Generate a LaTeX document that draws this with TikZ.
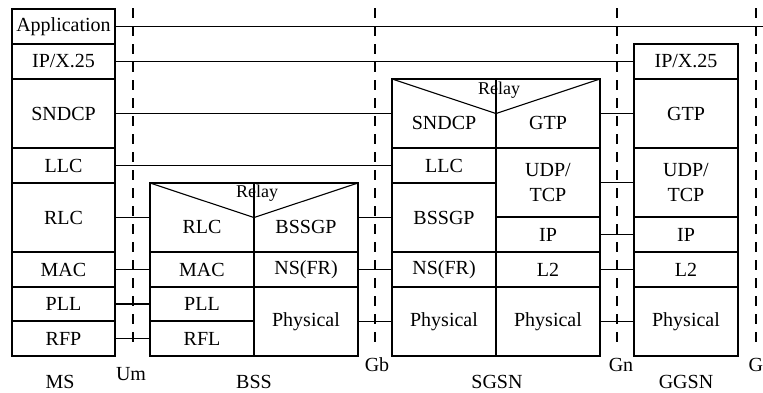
\documentclass[tikz,border=0pt]{standalone}
\usepackage{fontspec}
\setmainfont{Liberation Serif}
\tikzset{
  onerow/.style={minimum height=35pt},
  tworow/.style={minimum height=69pt},
  relaycell/.style={tworow,text height=33pt},
  relaytext/.style={font=\fontsize{18}{20}\selectfont,inner sep=0pt},
  iface/.style={draw=black,dash pattern=on 10pt off 8pt}
}
\begin{document}
\begin{tikzpicture}[x=1pt,y=-1pt,line width=1.1pt,font=\fontsize{20}{25}\selectfont]
      \useasboundingbox (0,0) rectangle (763,392);
      \begin{scope}[every node/.style={draw,rectangle,inner sep=0pt,outer sep=0pt,minimum width=104pt,align=center}]
        % MS
        \node[onerow,minimum width=103pt] (msApp) at (63.5,26.5) {Application};
        \node[onerow,minimum width=103pt] (msIP) at (63.5,61.5) {IP/X.25};
        \node[tworow,minimum width=103pt] (msSNDCP) at (63.5,113.5) {SNDCP};
        \node[onerow,minimum width=103pt] (msLLC) at (63.5,165.5) {LLC};
        \node[tworow,minimum width=103pt] (msRLC) at (63.5,217.5) {RLC};
        \node[onerow,minimum width=103pt] (msMAC) at (63.5,269.5) {MAC};
        \node[onerow,minimum width=103pt,minimum height=34pt] (msPLL) at (63.5,304) {PLL};
        \node[onerow,minimum width=103pt] (msRFP) at (63.5,338.5) {RFP};
        % BSS
        \node[relaycell] (bssRLC) at (202,217.5) {RLC};
        \node[onerow] (bssMAC) at (202,269.5) {MAC};
        \node[onerow,minimum height=34pt] (bssPLL) at (202,304) {PLL};
        \node[onerow] (bssRFL) at (202,338.5) {RFL};
        \node[relaycell] (bssBSSGP) at (306,217.5) {BSSGP};
        \node[onerow] (bssNS) at (306,269.5) {NS(FR)};
        \node[tworow] (bssPhy) at (306,321.5) {Physical};
        % SGSN
        \node[relaycell] (sgSNDCP) at (444,113.5) {SNDCP};
        \node[onerow] (sgLLC) at (444,165.5) {LLC};
        \node[tworow] (sgBSSGP) at (444,217.5) {BSSGP};
        \node[onerow] (sgNS) at (444,269.5) {NS(FR)};
        \node[tworow] (sgPhyA) at (444,321.5) {Physical};
        \node[relaycell] (sgGTP) at (548,113.5) {GTP};
        \node[tworow] (sgUDP) at (548,182.5) {UDP/\\TCP};
        \node[onerow] (sgIP) at (548,234.5) {IP};
        \node[onerow] (sgL2) at (548,269.5) {L2};
        \node[tworow] (sgPhyB) at (548,321.5) {Physical};
        % GGSN
        \node[onerow] (ggIP) at (686,61.5) {IP/X.25};
        \node[tworow] (ggGTP) at (686,113.5) {GTP};
        \node[tworow] (ggUDP) at (686,182.5) {UDP/\\TCP};
        \node[onerow] (ggIPb) at (686,234.5) {IP};
        \node[onerow] (ggL2) at (686,269.5) {L2};
        \node[tworow] (ggPhy) at (686,321.5) {Physical};
      \end{scope}
      \node[relaytext] (bssRelay) at (257,193) {Relay};
      \node[relaytext] (sgRelay) at (499,90) {Relay};
      \draw (bssRLC.north west) -- (bssRLC.east) -- (bssBSSGP.north east);
      \draw (sgSNDCP.north west) -- (sgSNDCP.east) -- (sgGTP.north east);
      \coordinate (appEnd) at (763,26.5);
      \begin{scope}[every edge/.style={draw=black,line width=1.1pt}]
          \path (msApp) edge (appEnd);
          \path (msIP) edge (ggIP);
          \path (msSNDCP) edge (sgSNDCP);
          \path (msLLC) edge (sgLLC);
          \path (msRLC) edge (bssRLC);
          \path (msMAC) edge (bssMAC);
          \path (msPLL) edge (bssPLL);
          \path (msRFP) edge (bssRFL);
          \path (bssBSSGP) edge (sgBSSGP);
          \path (bssNS) edge (sgNS);
          \path (bssPhy) edge (sgPhyA);
          \path (sgGTP) edge (ggGTP);
          \path (sgUDP) edge (ggUDP);
          \path (sgIP) edge (ggIPb);
          \path (sgL2) edge (ggL2);
          \path (sgPhyB) edge (ggPhy);
      \end{scope}
      \foreach \x in {133,375,617,756}
        \draw[iface] (\x,8) -- (\x,346);
      \begin{scope}[every node/.style={inner sep=0pt}]
        \node (msName) at (60,382) {MS};
        \node (umName) at (131,374) {Um};
        \node (bssName) at (254,382) {BSS};
        \node (gbName) at (377,365) {Gb};
        \node (sgName) at (497,382) {SGSN};
        \node (gnName) at (621,365) {Gn};
        \node (ggName) at (686,382) {GGSN};
        \node[anchor=west] (giName) at (748,365) {G};
      \end{scope}
\end{tikzpicture}
\end{document}
